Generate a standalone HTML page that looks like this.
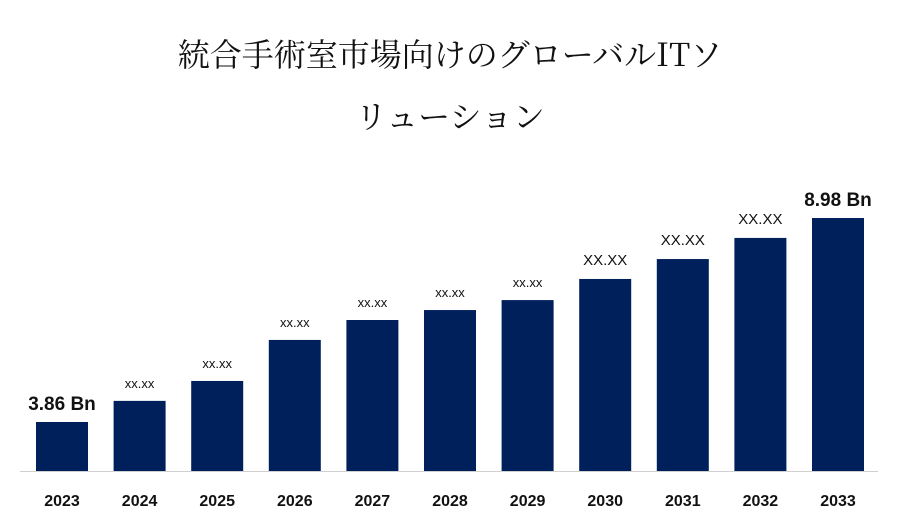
<!DOCTYPE html>
<html><head><meta charset="utf-8"><style>
body{margin:0;background:#fff;width:900px;height:525px;overflow:hidden;font-family:"Liberation Sans","Noto Sans CJK JP",sans-serif}
.title{position:absolute;left:0;width:900px;text-align:center;font-family:"Noto Serif CJK JP","Noto Serif CJK SC","Liberation Serif",serif;font-size:32px;color:#111}
</style></head><body>
<div class="title" style="top:22px;line-height:62px">統合手術室市場向けのグローバルITソ<br>リューション</div>
<svg id="chart" width="900" height="525" style="position:absolute;left:0;top:0"></svg>
<script>
const categories=["2023","2024","2025","2026","2027","2028","2029","2030","2031","2032","2033"];
const values=[3.86,4.39,4.89,5.92,6.42,6.67,6.92,7.45,7.95,8.48,8.98];
const valueLabels=["3.86 Bn","xx.xx","xx.xx","xx.xx","xx.xx","xx.xx","xx.xx","XX.XX","XX.XX","XX.XX","8.98 Bn"];
const svg=document.getElementById('chart');
const NS='http://www.w3.org/2000/svg';
const base=471,k=39.84,v0=2.63;
function y(v){return base-(v-v0)*k;}
function xLeft(i){return 36+i*77.6;}
const bw=52;
const axis=document.createElementNS(NS,'line');
axis.setAttribute('x1',20);axis.setAttribute('x2',878);axis.setAttribute('y1',base+0.5);axis.setAttribute('y2',base+0.5);
axis.setAttribute('stroke','#d0d0d0');axis.setAttribute('stroke-width','1');


svg.appendChild(axis);
categories.forEach((c,i)=>{
  const r=document.createElementNS(NS,'rect');
  r.setAttribute('x',xLeft(i));r.setAttribute('y',y(values[i]));r.setAttribute('width',bw);r.setAttribute('height',base-y(values[i]));
  r.setAttribute('fill','#00205c');
  
  
  svg.appendChild(r);
  const t=document.createElementNS(NS,'text');
  t.setAttribute('x',xLeft(i)+bw/2);t.setAttribute('y',506);t.setAttribute('text-anchor','middle');
  t.setAttribute('font-size','16');t.setAttribute('font-weight','bold');t.setAttribute('fill','#111');
  t.textContent=c;
  
  
  svg.appendChild(t);
  const lab=valueLabels[i];
  const big=lab.indexOf('Bn')>=0, mid=lab==="XX.XX";
  const v=document.createElementNS(NS,'text');
  v.setAttribute('x',xLeft(i)+bw/2);v.setAttribute('y',y(values[i])-(big?12:mid?14:13));v.setAttribute('text-anchor','middle');
  v.setAttribute('font-size',big?'19':mid?'15':'13');
  if(big)v.setAttribute('font-weight','bold');
  v.setAttribute('fill','#111');
  v.textContent=lab;
  
  
  svg.appendChild(v);
});
</script>
</body></html>
